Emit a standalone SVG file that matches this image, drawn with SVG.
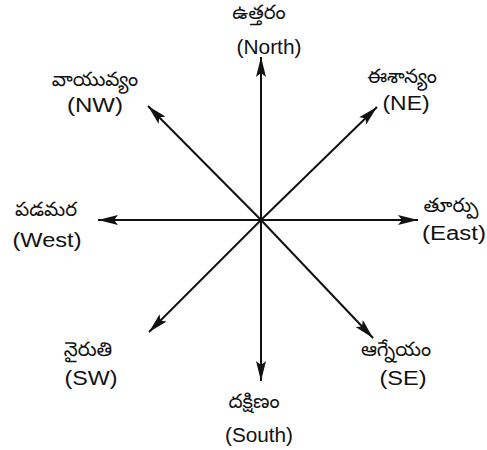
<svg xmlns="http://www.w3.org/2000/svg" width="487" height="450" viewBox="0 0 487 450">
<style>
.bg{fill:#fff}
.ln{stroke:#111;stroke-width:2;fill:none;marker-end:url(#ah)}
.te{font-family:"Noto Sans Telugu","Noto Sans","Liberation Sans",sans-serif;font-size:20px;fill:#111;text-anchor:middle}
.en{font-family:"Liberation Sans",Arial,sans-serif;font-size:20px;fill:#111;text-anchor:middle}
</style>
<defs>
<marker id="ah" markerUnits="userSpaceOnUse" viewBox="0 0 20 10" refX="20" refY="5" markerWidth="20" markerHeight="10" orient="auto">
<path d="M0,0 L20,5 L0,10 L4,5 z" fill="#111"/>
</marker>
</defs>
<rect class="bg" x="0" y="0" width="487" height="450"/>
<g id="connectors">
<line class="ln" x1="261" y1="220" x2="261" y2="57"/>
<line class="ln" x1="261" y1="220" x2="261" y2="381"/>
<line class="ln" x1="261" y1="220" x2="98" y2="220"/>
<line class="ln" x1="261" y1="220" x2="418" y2="220"/>
<line class="ln" x1="261" y1="220" x2="148" y2="106"/>
<line class="ln" x1="261" y1="220" x2="377" y2="107"/>
<line class="ln" x1="261" y1="220" x2="149" y2="332"/>
<line class="ln" x1="261" y1="220" x2="373" y2="338"/>
</g>
<g id="north">
<text class="te" x="259" y="19">ఉత్తరం</text>
<text class="en" x="269" y="54" textLength="65" lengthAdjust="spacingAndGlyphs">(North)</text>
</g>
<g id="northeast">
<text class="te" x="402" y="83">ఈశాన్యం</text>
<text class="en" x="406" y="110" textLength="47" lengthAdjust="spacingAndGlyphs">(NE)</text>
</g>
<g id="northwest">
<text class="te" x="95" y="86">వాయువ్యం</text>
<text class="en" x="95" y="112" textLength="56" lengthAdjust="spacingAndGlyphs">(NW)</text>
</g>
<g id="west">
<text class="te" x="46" y="216">పడమర</text>
<text class="en" x="47" y="247" textLength="69" lengthAdjust="spacingAndGlyphs">(West)</text>
</g>
<g id="east">
<text class="te" x="451" y="212">తూర్పు</text>
<text class="en" x="454" y="240" textLength="64" lengthAdjust="spacingAndGlyphs">(East)</text>
</g>
<g id="southwest">
<text class="te" x="88" y="356">నైరుతి</text>
<text class="en" x="91" y="385" textLength="53" lengthAdjust="spacingAndGlyphs">(SW)</text>
</g>
<g id="southeast">
<text class="te" x="396" y="356">ఆగ్నేయం</text>
<text class="en" x="403" y="385" textLength="47" lengthAdjust="spacingAndGlyphs">(SE)</text>
</g>
<g id="south">
<text class="te" x="254" y="408">దక్షిణం</text>
<text class="en" x="259" y="442" textLength="68" lengthAdjust="spacingAndGlyphs">(South)</text>
</g>
</svg>
